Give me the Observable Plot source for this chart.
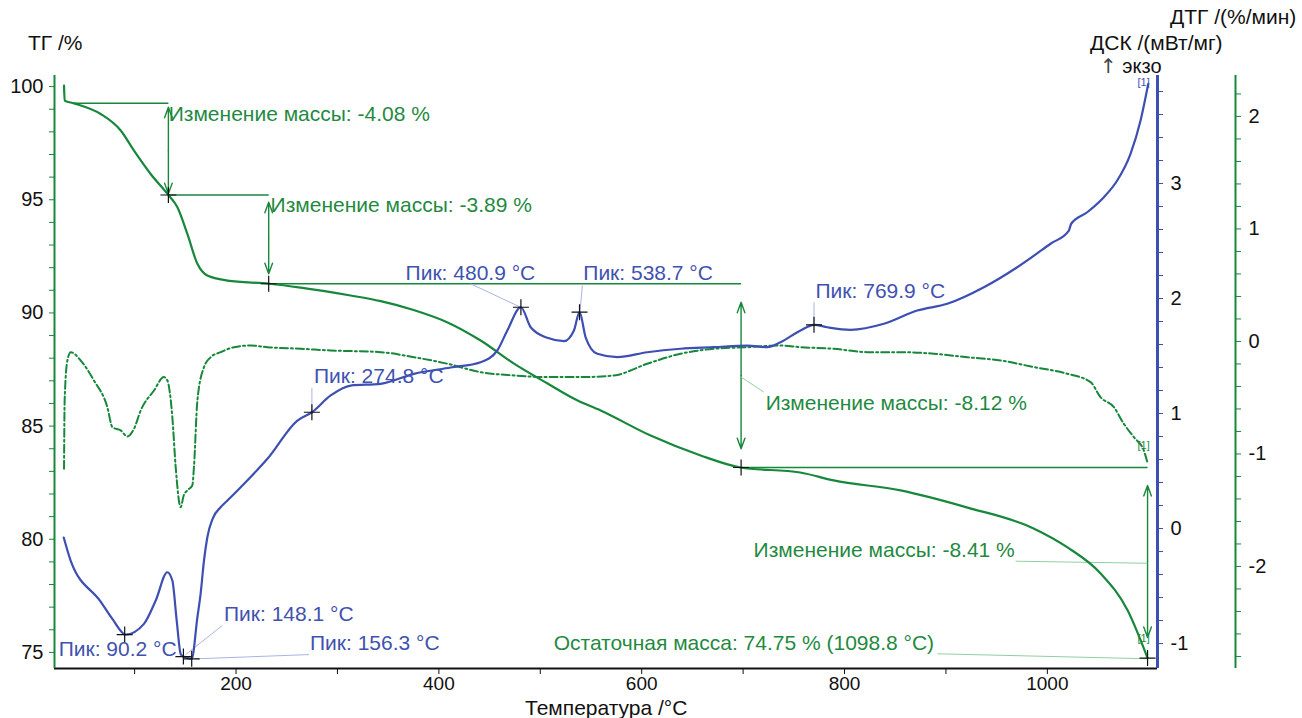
<!DOCTYPE html>
<html><head><meta charset="utf-8">
<script src="https://cdn.jsdelivr.net/npm/d3@7"></script>
<script src="https://cdn.jsdelivr.net/npm/@observablehq/plot@0.6"></script>
<style>
body{margin:0;background:#fff;font-family:"Liberation Sans",Arial,sans-serif;}
#chart{position:relative;width:1302px;height:718px;overflow:hidden;background:#fff}
#chart svg{position:absolute;left:0;top:0}
.lbl{position:absolute;font-size:21px;color:#111;white-space:nowrap;line-height:21px}
.arr{font-family:"DejaVu Sans",sans-serif;color:#444;font-variant-emoji:text}
</style></head><body><div id="chart"></div><script>
// ---------- data ----------
const tgT = [30.4, 31.0, 40.2, 66.5, 86.3, 99.4, 115.8, 133.3, 142.2, 152.0, 161.9, 171.7, 191.5, 232.9, 263.7, 313.0, 342.6, 375.1, 408.6, 441.2, 473.7, 507.2, 536.8, 559.5, 608.8, 658.1, 697.5, 756.3, 789.2, 855.2, 921.3, 986.4, 1019.9, 1052.5, 1079.1, 1098.8];
const tgV = [100.04, 99.38, 99.26, 98.79, 98.06, 97.17, 96.14, 95.21, 94.67, 93.49, 92.17, 91.65, 91.43, 91.29, 91.12, 90.77, 90.52, 90.13, 89.58, 88.78, 87.77, 86.88, 86.13, 85.69, 84.58, 83.70, 83.17, 82.95, 82.60, 82.16, 81.40, 80.48, 79.64, 78.49, 76.86, 74.75];

const dscT = [30.1, 36.9, 66.5, 78.4, 91.2, 109.2, 120.8, 132.3, 137.2, 141.5, 145.4, 148.1, 156.3, 161.9, 165.1, 168.4, 171.7, 177.0, 184.8, 191.5, 204.6, 230.9, 260.5, 274.8, 293.3, 313.0, 342.6, 375.4, 411.6, 441.2, 457.6, 467.5, 480.9, 490.5, 507.0, 523.3, 533.2, 538.7, 544.7, 556.2, 575.9, 605.5, 638.4, 671.2, 704.1, 723.8, 736.9, 756.6, 769.9, 783.0, 806.0, 838.8, 871.7, 901.3, 937.4, 970.3, 1003.1, 1021.2, 1023.5, 1039.3, 1055.7, 1068.9, 1082.0, 1091.9, 1099.5];
const dscV = [-0.078, -0.278, -0.635, -0.790, -0.922, -0.829, -0.626, -0.380, -0.452, -0.800, -1.090, -1.113, -1.133, -0.771, -0.565, -0.278, -0.076, 0.087, 0.185, 0.243, 0.359, 0.606, 0.939, 1.011, 1.157, 1.243, 1.258, 1.345, 1.400, 1.446, 1.548, 1.722, 1.924, 1.750, 1.658, 1.629, 1.722, 1.881, 1.663, 1.519, 1.490, 1.533, 1.563, 1.577, 1.591, 1.577, 1.620, 1.722, 1.771, 1.750, 1.728, 1.780, 1.896, 1.954, 2.098, 2.272, 2.476, 2.591, 2.650, 2.750, 2.881, 3.026, 3.258, 3.548, 3.867];

const dtgT = [30.4, 31.0, 33.7, 37.0, 46.8, 59.9, 73.1, 78.1, 86.3, 92.9, 99.4, 106.0, 119.1, 128.9, 132.3, 137.2, 140.5, 145.4, 148.4, 152.0, 156.9, 158.5, 161.9, 168.4, 175.0, 184.8, 198.0, 214.4, 230.9, 263.7, 293.3, 342.6, 375.4, 408.4, 441.2, 474.0, 506.9, 539.8, 572.6, 605.5, 638.4, 671.2, 704.1, 736.9, 756.6, 789.5, 822.4, 855.1, 888.1, 921.0, 953.8, 986.7, 1019.6, 1042.6, 1052.4, 1065.6, 1075.4, 1085.3, 1095.1, 1098.6];
const dtgV = [-1.132, -0.524, -0.169, -0.095, -0.169, -0.347, -0.584, -0.762, -0.791, -0.844, -0.776, -0.613, -0.436, -0.317, -0.347, -0.673, -1.117, -1.473, -1.369, -1.324, -1.280, -1.117, -0.524, -0.228, -0.140, -0.095, -0.051, -0.036, -0.051, -0.065, -0.080, -0.095, -0.140, -0.198, -0.273, -0.302, -0.317, -0.317, -0.302, -0.198, -0.109, -0.065, -0.051, -0.036, -0.051, -0.065, -0.095, -0.095, -0.109, -0.140, -0.169, -0.228, -0.287, -0.362, -0.495, -0.584, -0.732, -0.851, -0.969, -1.073];

// mass-change steps (TG units)
const stepText = ["Изменение массы: -4.08 %", "Изменение массы: -3.89 %", "Изменение массы: -8.12 %", "Изменение массы: -8.41 %", "Остаточная масса: 74.75 % (1098.8 °C)"];
const stepTextT = [133.6, 234.1, 722.2, 710.3, 513.2];
const stepTextV = [98.78, 94.75, 86.00, 79.53, 75.40];
const levelT1 = [40.2, 133.3, 232.2, 698.0];
const levelT2 = [133.3, 232.2, 698.0, 1098.8];
const levelV = [99.26, 95.21, 91.29, 83.17];
const arrowT = [133.3, 232.2, 698.0, 1098.8];
const arrowV1 = [99.09, 94.89, 90.47, 82.38];
const arrowV2 = [95.27, 91.73, 84.00, 75.66];
const tgMarkT = [133.3, 232.2, 698.0, 1098.8];
const tgMarkV = [95.21, 91.29, 83.17, 74.75];
const tgLeadT1 = [698.2, 968.6, 891.4];
const tgLeadT2 = [720.5, 1098.5, 1098.5];
const tgLeadV1 = [87.16, 79.03, 74.94];
const tgLeadV2 = [86.50, 78.94, 74.72];

// DSC peaks
const peakT = [90.2, 148.1, 156.3, 274.8, 480.9, 538.7, 769.9];
const peakV = [-0.922, -1.113, -1.133, 1.011, 1.924, 1.881, 1.771];
const peakText = ["Пик: 90.2 °C", "Пик: 148.1 °C", "Пик: 156.3 °C", "Пик: 274.8 °C", "Пик: 480.9 °C", "Пик: 538.7 °C", "Пик: 769.9 °C"];
const peakTextT = [25.1, 188.1, 272.9, 276.8, 367.2, 542.4, 771.4];
const peakTextV = [-1.052, -0.748, -0.996, 1.322, 2.222, 2.222, 2.064];
const peakLeadT1 = [150.3, 160.2, 274.8, 480.6, 539.1, 769.9];
const peakLeadT2 = [186.5, 271.9, 274.8, 431.3, 541.5, 769.9];
const peakLeadV1 = [-1.096, -1.133, 1.011, 1.924, 1.881, 1.771];
const peakLeadV2 = [-0.843, -1.096, 1.223, 2.128, 2.113, 1.968];

// ticks
const xTickVals = [100, 200, 300, 400, 500, 600, 700, 800, 900, 1000];
const xTickLabels = [200, 400, 600, 800, 1000];
const tgTickLabels = [75, 80, 85, 90, 95, 100];
const dscTickLabels = [-1, 0, 1, 2, 3];
const dtgTickLabels = [-2, -1, 0, 1, 2];

// ---------- layout ----------
const W = 1302, H = 718;
const M = {marginTop: 75, marginBottom: 50, marginLeft: 54, marginRight: 145};
const xDomain = [21, 1108.6];
const tgDomain = [74.29, 100.49];
const dscDomain = [-1.217, 3.939];
const dtgDomain = [-2.907, 2.364];
const GREEN = "#17873b", BLUE = "#3d4fb2", TXTG = "#1f8a3f", TXTB = "#3f52b0";
const style = {background: "transparent", overflow: "visible", fontFamily: "'Liberation Sans', Arial, sans-serif", fontSize: "20px", color: "#111"};

const zipXY = (a, b) => a.map((T, i) => ({T, v: b[i]}));
const tgData = zipXY(tgT, tgV), dscData = zipXY(dscT, dscV), dtgData = zipXY(dtgT, dtgV);
const levels = levelV.map((v, i) => ({x1: levelT1[i], x2: levelT2[i], v}));
const arrows = arrowT.map((T, i) => ({T, y1: arrowV1[i], y2: arrowV2[i], mid: (arrowV1[i] + arrowV2[i]) / 2}));
const tgMarks = zipXY(tgMarkT, tgMarkV);
const tgLeads = tgLeadT1.map((t, i) => ({x1: t, x2: tgLeadT2[i], y1: tgLeadV1[i], y2: tgLeadV2[i]}));
const stepLabels = stepText.map((s, i) => ({s, T: stepTextT[i], v: stepTextV[i]}));
const peaks = zipXY(peakT, peakV);
const peakLabels = peakText.map((s, i) => ({s, T: peakTextT[i], v: peakTextV[i]}));
const peakLeads = peakLeadT1.map((t, i) => ({x1: t, x2: peakLeadT2[i], y1: peakLeadV1[i], y2: peakLeadV2[i]}));

const plusSym = {draw(ctx, size) { const r = Math.sqrt(size / Math.PI); ctx.moveTo(-r, 0); ctx.lineTo(r, 0); ctx.moveTo(0, -r); ctx.lineTo(0, r); }};
const fmt = (labels) => d => { const k = Math.round(d * 10) / 10; return labels.includes(k) ? String(k) : ""; };
const minor = (a, b) => d3.range(Math.round(a * 5), Math.round(b * 5) + 1).map(i => i / 5);
const arrowStyle = {stroke: GREEN, strokeWidth: 1.4, headLength: 12, headAngle: 40};

const tgPlot = Plot.plot({
  width: W, height: H, ...M, style,
  x: {domain: xDomain}, y: {domain: tgDomain},
  marks: [
    Plot.ruleY([tgDomain[0]], {stroke: "#111", strokeWidth: 2}),
    Plot.axisX({ticks: xTickVals, tickFormat: d => xTickLabels.includes(d) ? String(d) : "", tickSize: 6, tickPadding: 2, stroke: "#111", fill: "#111", label: null, fontSize: 19}),
    Plot.ruleX([xDomain[0]], {stroke: GREEN, strokeWidth: 2}),
    Plot.axisY({ticks: d3.range(75, 101), tickFormat: d => tgTickLabels.includes(d) ? String(d) : "", tickSize: 5, tickPadding: 6, stroke: GREEN, fill: "#111", label: null}),
    Plot.link(levels, {x1: "x1", x2: "x2", y1: "v", y2: "v", stroke: GREEN, strokeWidth: 1.5}),
    Plot.arrow(arrows, {x1: "T", x2: "T", y1: "mid", y2: "y1", ...arrowStyle}),
    Plot.arrow(arrows, {x1: "T", x2: "T", y1: "mid", y2: "y2", ...arrowStyle}),
    Plot.link(tgLeads, {x1: "x1", x2: "x2", y1: "y1", y2: "y2", stroke: "#8fd0a0", strokeWidth: 1}),
    Plot.line(tgData, {x: "T", y: "v", stroke: GREEN, strokeWidth: 2.2, curve: "monotone-x"}),
    Plot.dot(tgMarks, {x: "T", y: "v", symbol: plusSym, r: 8, stroke: "#111", strokeWidth: 1.2, fill: "none"}),
    Plot.text(stepLabels, {x: "T", y: "v", text: "s", textAnchor: "start", fill: TXTG, fontSize: 21}),
    Plot.text(["[1]", "[1]"], {x: [1094.9, 1094.9], y: [84.14, 75.62], text: d => d, fill: TXTG, fontSize: 11})
  ]
});

const dtgPlot = Plot.plot({
  width: W, height: H, ...M, style,
  x: {domain: xDomain, axis: null}, y: {domain: dtgDomain},
  marks: [
    Plot.ruleX([xDomain[1]], {dx: 78, stroke: GREEN, strokeWidth: 2}),
    Plot.axisY({anchor: "right", dx: 78, ticks: minor(-2.8, 2.2), tickFormat: fmt(dtgTickLabels), tickSize: 5, tickPadding: 8, stroke: GREEN, fill: "#111", label: null}),
    Plot.line(dtgData, {x: "T", y: "v", stroke: GREEN, strokeWidth: 2, strokeDasharray: "8,3,2,3", curve: "monotone-x"})
  ]
});

const dscPlot = Plot.plot({
  width: W, height: H, ...M, style,
  x: {domain: xDomain, axis: null}, y: {domain: dscDomain},
  marks: [
    Plot.ruleX([xDomain[1]], {stroke: BLUE, strokeWidth: 3}),
    Plot.axisY({anchor: "right", ticks: minor(-1, 3.8), tickFormat: fmt(dscTickLabels), tickSize: 5, tickPadding: 8, stroke: BLUE, fill: "#111", label: null}),
    Plot.link(peakLeads, {x1: "x1", x2: "x2", y1: "y1", y2: "y2", stroke: "#aab4e2", strokeWidth: 1}),
    Plot.line(dscData, {x: "T", y: "v", stroke: BLUE, strokeWidth: 2.2, curve: "monotone-x"}),
    Plot.dot(peaks, {x: "T", y: "v", symbol: plusSym, r: 8, stroke: "#111", strokeWidth: 1.2, fill: "none"}),
    Plot.text(peakLabels, {x: "T", y: "v", text: "s", textAnchor: "start", fill: TXTB, fontSize: 21}),
    Plot.text(["[1]"], {x: [1094.9], y: [3.88], text: d => d, fill: TXTB, fontSize: 11})
  ]
});

const chart = document.getElementById("chart");
chart.append(tgPlot, dtgPlot, dscPlot);
const addLbl = (txt, left, top, extra) => { const d = document.createElement("div"); d.className = "lbl"; d.textContent = txt; d.style.left = left + "px"; d.style.top = top + "px"; if (extra) Object.assign(d.style, extra); chart.append(d); return d; };
addLbl("ТГ /%", 28, 32);
addLbl("ДТГ /(%/мин)", 1170, 6);
addLbl("ДСК /(мВт/мг)", 1090, 32);
const exo = addLbl("", 1100, 57, {fontSize: "20px", lineHeight: "18px"});
const arrowSpan = document.createElement("span"); arrowSpan.className = "arr"; arrowSpan.textContent = "\u2191\uFE0E";
exo.append(arrowSpan, document.createTextNode(" экзо"));
addLbl("Температура /°C", 525, 699, {lineHeight: "18px"});
</script></body></html>
